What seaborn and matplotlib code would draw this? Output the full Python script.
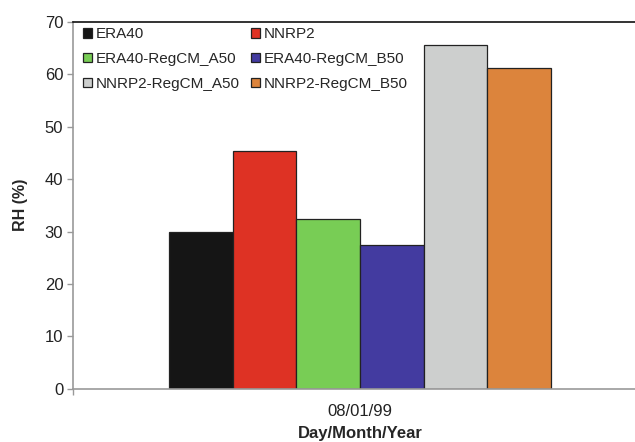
import matplotlib
matplotlib.use("Agg")
import matplotlib.pyplot as plt
import seaborn as sns
import pandas as pd

dates = ["08/01/99"]
models = ["ERA40", "NNRP2", "ERA40-RegCM_A50", "ERA40-RegCM_B50",
          "NNRP2-RegCM_A50", "NNRP2-RegCM_B50"]
rh_values = [30.0, 45.3, 32.4, 27.5, 65.6, 61.1]
colors = ["#151515", "#DE3224", "#78CD55", "#433BA0", "#CDCFCE", "#DC843C"]
yticks = [0, 10, 20, 30, 40, 50, 60, 70]

df = pd.DataFrame({"date": dates * len(models), "model": models, "rh": rh_values})

sns.set_style("white")
plt.rcParams["font.family"] = ["Liberation Sans", "DejaVu Sans"]

fig = plt.figure(figsize=(6.35, 4.42), dpi=100)
ax = fig.add_axes([0.115, 0.120, 0.904, 0.831])

sns.barplot(data=df, x="date", y="rh", hue="model", hue_order=models,
            palette=colors, width=0.665, edgecolor="#222222", linewidth=0.9,
            saturation=1, errorbar=None, ax=ax)

ax.set_xlim(-0.5, 0.5)
ax.set_ylim(0, 70)
ax.set_yticks(yticks)
ax.set_yticklabels([str(v) for v in yticks], fontsize=12, color="#222222")
ax.tick_params(axis="y", direction="out", length=4, width=1, color="#999999", pad=3, left=True)
ax.tick_params(axis="x", length=0, labelsize=12, labelcolor="#222222", pad=11)
ax.set_xticks([-0.5], minor=True)
ax.tick_params(axis="x", which="minor", direction="out", length=4, width=1, color="#999999", bottom=True)

for side in ["left", "bottom"]:
    ax.spines[side].set_color("#999999")
    ax.spines[side].set_linewidth(1.2)
ax.spines["top"].set_color("#111111")
ax.spines["top"].set_linewidth(1.2)
ax.spines["right"].set_visible(False)

ax.set_ylabel("RH (%)", fontsize=11.5, fontweight="bold", labelpad=12)
ax.set_xlabel("Day/Month/Year", fontsize=12, fontweight="bold", labelpad=5)

handles, labels = ax.get_legend_handles_labels()
order = [0, 2, 4, 1, 3, 5]
ax.legend([handles[i] for i in order], [labels[i] for i in order],
          ncol=2, frameon=False, loc="upper left", bbox_to_anchor=(0.004, 1.006),
          fontsize=11, handlelength=0.6, handleheight=0.6, handletextpad=0.25,
          columnspacing=0.7, labelspacing=0.71, borderaxespad=0.1)

fig.savefig("out.png", dpi=100)
